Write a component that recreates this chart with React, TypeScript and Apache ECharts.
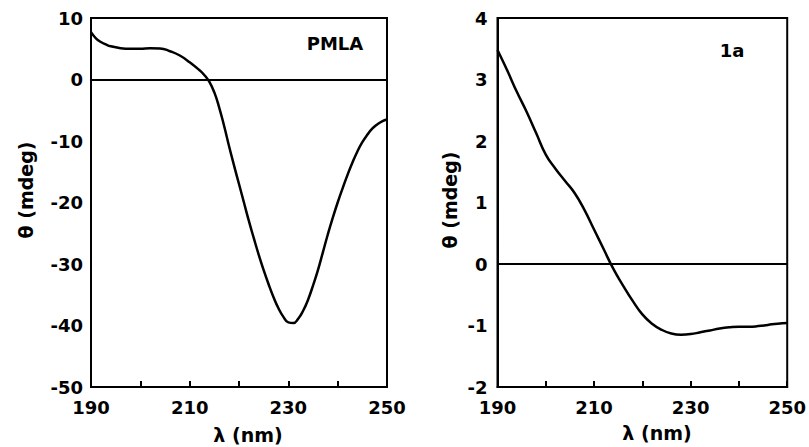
import React, { useEffect, useRef } from "react";
import * as echarts from "echarts";

const pmlaWavelength = [190, 191, 192, 193, 194, 196, 198, 200, 202, 204, 206, 208, 210, 212, 213, 214, 215, 216, 217, 218, 219, 220, 221, 222, 223, 224, 225, 226, 227, 228, 229, 230, 231, 232, 233, 234, 235, 236, 237, 238, 239, 240, 241, 242, 243, 244, 245, 246, 247, 248, 249, 250];
const pmlaTheta = [7.7, 6.7, 6.1, 5.7, 5.4, 5.1, 5.0, 5.0, 5.1, 5.05, 4.6, 3.9, 2.8, 1.5, 0.7, -0.4, -2.1, -4.6, -7.6, -10.9, -14, -17, -20, -23, -25.8, -28.5, -31, -33.3, -35.4, -37.2, -38.6, -39.5, -39.6, -38.9, -37.6, -35.8, -33.5, -31, -28.1, -25.2, -22.5, -20, -17.7, -15.5, -13.5, -11.7, -10.2, -9, -8, -7.3, -6.8, -6.5];

const oneAWavelength = [190, 192, 194, 196, 198, 200, 202, 204, 206, 208, 210, 212, 214, 216, 218, 220, 222, 224, 226, 228, 230, 232, 234, 236, 238, 240, 242, 244, 246, 248, 250];
const oneATheta = [3.48, 3.15, 2.8, 2.48, 2.13, 1.78, 1.55, 1.35, 1.15, 0.88, 0.56, 0.24, -0.08, -0.35, -0.6, -0.82, -0.97, -1.07, -1.13, -1.15, -1.14, -1.11, -1.08, -1.05, -1.03, -1.02, -1.02, -1.01, -0.99, -0.97, -0.96];

const panelTitles = ["PMLA", "1a"];
const yAxisTitle = "θ (mdeg)";
const xAxisTitle = "λ (nm)";

const FONT = "DejaVu Sans";

export default function App() {
  const ref = useRef<HTMLDivElement>(null);
  useEffect(() => {
    if (!ref.current) return;
    const chart = echarts.init(ref.current, null, { renderer: "svg" });
    const labelStyle = { color: "#000", fontFamily: FONT, fontWeight: "bold" as const, fontSize: 18 };
    const xAxisBase = (gridIndex: number) => ({
      type: "value" as const,
      gridIndex,
      min: 190,
      max: 250,
      interval: 10,
      axisLine: { show: true, onZero: false, lineStyle: { color: "#000", width: 2 } },
      axisTick: { show: true, inside: true, length: 6, lineStyle: { color: "#000", width: 2 } },
      splitLine: { show: false },
      axisLabel: {
        ...labelStyle,
        margin: 11,
        formatter: (v: number) => ((v - 190) % 20 === 0 ? String(v) : ""),
      },
    });
    const pairs = (xs: number[], ys: number[]) => xs.map((x, i) => [x, ys[i]]);
    const zeroLine = {
      silent: true,
      symbol: "none",
      label: { show: false },
      lineStyle: { color: "#000", width: 2, type: "solid" as const },
      data: [{ yAxis: 0 }],
    };
    const titleFont = `bold 19px "${FONT}"`;
    chart.setOption({
      animation: false,
      backgroundColor: "#fff",
      grid: [
        { left: 91, top: 18, width: 296, height: 369, show: true, borderColor: "#000", borderWidth: 2 },
        { left: 497.5, top: 18, width: 293, height: 369, show: true, borderColor: "#000", borderWidth: 2 },
      ],
      xAxis: [xAxisBase(0), xAxisBase(1)],
      yAxis: [
        {
          type: "value",
          gridIndex: 0,
          min: -50,
          max: 10,
          interval: 10,
          axisLine: { show: true, onZero: false, lineStyle: { color: "#000", width: 2 } },
          axisTick: { show: false },
          splitLine: { show: false },
          axisLabel: { ...labelStyle, margin: 8 },
        },
        {
          type: "value",
          gridIndex: 1,
          min: -2,
          max: 4,
          interval: 1,
          axisLine: { show: true, onZero: false, lineStyle: { color: "#000", width: 2 } },
          axisTick: { show: false },
          splitLine: { show: false },
          axisLabel: { ...labelStyle, margin: 10 },
        },
      ],
      series: [
        {
          type: "line",
          xAxisIndex: 0,
          yAxisIndex: 0,
          data: pairs(pmlaWavelength, pmlaTheta),
          smooth: true,
          showSymbol: false,
          lineStyle: { color: "#000", width: 2.5 },
          markLine: zeroLine,
        },
        {
          type: "line",
          xAxisIndex: 1,
          yAxisIndex: 1,
          data: pairs(oneAWavelength, oneATheta),
          smooth: true,
          showSymbol: false,
          lineStyle: { color: "#000", width: 2.5 },
          markLine: zeroLine,
        },
      ],
      graphic: [
        { type: "text", x: 335, y: 43, style: { text: panelTitles[0], fill: "#000", font: `bold 18px "${FONT}"`, align: "center", verticalAlign: "middle" } },
        { type: "text", x: 732, y: 50, style: { text: panelTitles[1], fill: "#000", font: `bold 18px "${FONT}"`, align: "center", verticalAlign: "middle" } },
        { type: "text", x: 26, y: 190, rotation: Math.PI / 2, style: { text: yAxisTitle, fill: "#000", font: titleFont, align: "center", verticalAlign: "middle" } },
        { type: "text", x: 450, y: 200, rotation: Math.PI / 2, style: { text: yAxisTitle, fill: "#000", font: titleFont, align: "center", verticalAlign: "middle" } },
        { type: "text", x: 248, y: 435, style: { text: xAxisTitle, fill: "#000", font: titleFont, align: "center", verticalAlign: "middle" } },
        { type: "text", x: 657, y: 433, style: { text: xAxisTitle, fill: "#000", font: titleFont, align: "center", verticalAlign: "middle" } },
      ],
    });
    return () => chart.dispose();
  }, []);
  return <div ref={ref} style={{ position: "fixed", left: 0, top: 0, width: 809, height: 447, background: "#fff" }} />;
}
